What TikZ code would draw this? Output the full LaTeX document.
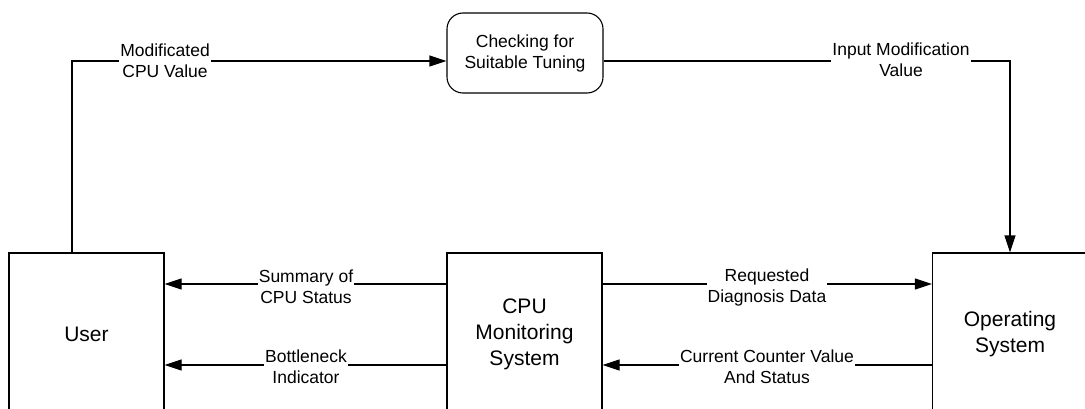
\documentclass[tikz,border=0pt]{standalone}
\usepackage{fontspec}
\setmainfont{Liberation Sans}
\usetikzlibrary{arrows.meta,calc}

\begin{document}
\begin{tikzpicture}[x=1pt,y=-1pt,
  line width=1.1pt,
  block/.style={draw, minimum width=155pt, minimum height=162pt, inner sep=0pt,
    align=center, font=\fontsize{21}{26}\selectfont},
  roundblock/.style={draw, rounded corners=16pt, minimum width=156pt, minimum height=80pt,
    inner sep=0pt, align=center, font=\fontsize{17.5}{21}\selectfont},
  flowlabel/.style={fill=white, inner sep=1pt, align=center, font=\fontsize{17.5}{21}\selectfont},
  arr/.style={-{Triangle[length=17pt,width=11pt]}}
]
\clip (0,0) rectangle (1085,409);

% main blocks (their lower parts run past the lower edge)
\node[block] (user) at (86.5,334) {User};
\node[block] (cpu) at (524.5,334) {CPU\\Monitoring\\System};
\node[block] (os) at (1010,334) {Operating\\System};
\node[roundblock] (chk) at (525,53) {Checking for\\Suitable Tuning};

% routing points
\coordinate (ul) at (72,61);
\coordinate (ur) at (1010,61);
\coordinate (r1) at (0,284);
\coordinate (r2) at (0,365);

% feedback loop through the tuning check
\draw[arr] (ul |- user.north) -- (ul) -- (chk.west |- ul);
\draw[arr] (chk.east |- ur) -- (ur) -- (os.north);

% data flows between the blocks
\draw[arr] (cpu.west |- r1) -- (user.east |- r1);
\draw[arr] (cpu.west |- r2) -- (user.east |- r2);
\draw[arr] (cpu.east |- r1) -- (os.west |- r1);
\draw[arr] (os.west |- r2) -- (cpu.east |- r2);

% flow labels
\node[flowlabel] (l1) at (165,61) {Modificated\\CPU Value};
\node[flowlabel] (l2) at (901,60) {Input Modification\\Value};
\node[flowlabel] (l3) at (306,287) {Summary of\\CPU Status};
\node[flowlabel] (l4) at (306,367) {Bottleneck\\Indicator};
\node[flowlabel] (l5) at (767,287) {Requested\\Diagnosis Data};
\node[flowlabel] (l6) at (767,367) {Current Counter Value\\And Status};
\end{tikzpicture}
\end{document}
